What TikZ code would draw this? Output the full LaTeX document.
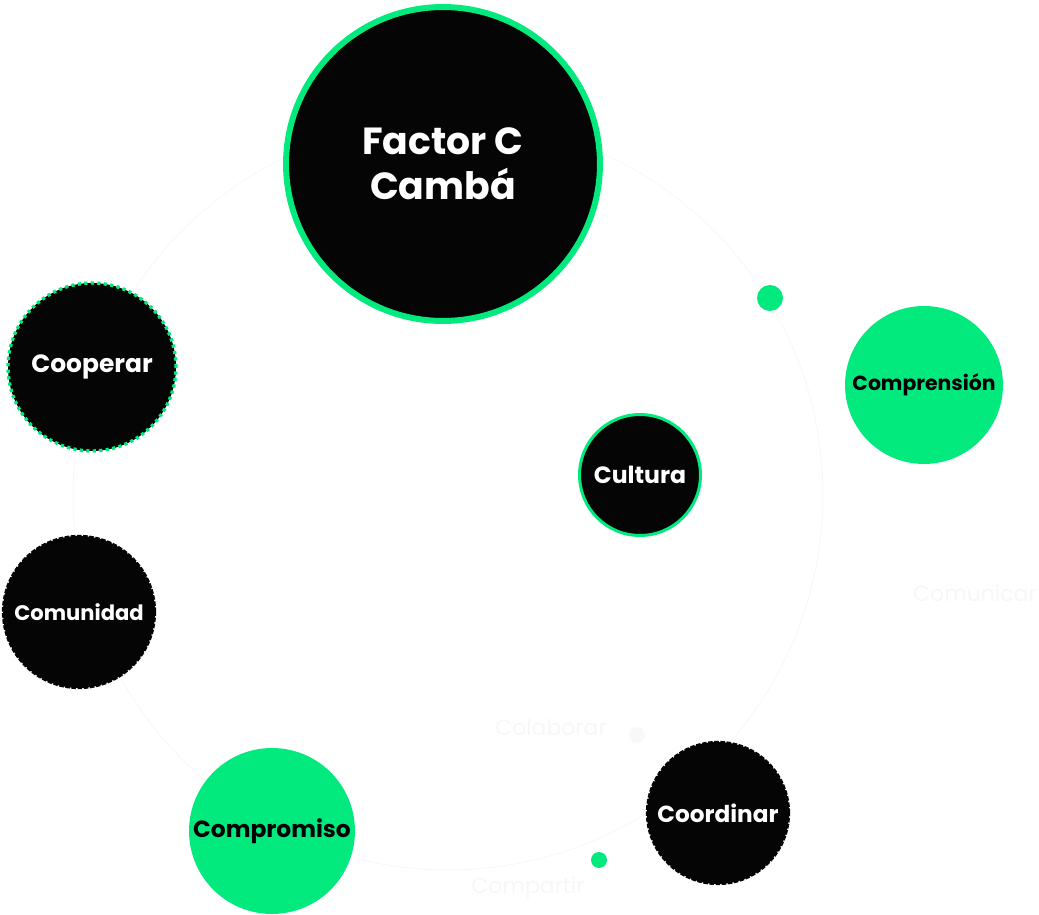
\documentclass[tikz,border=0pt]{standalone}
\usepackage{fontspec}
\setmainfont{Poppins}
\usepackage{tikz}
\usetikzlibrary{positioning, calc}
\definecolor{cgreen}{HTML}{02E97D}
\definecolor{cblack}{HTML}{050505}
\definecolor{cghost}{HTML}{F7F7F7}
\definecolor{cfaint}{HTML}{F8F8F8}
\tikzset{
        my-circle/.style={
            circle, inner sep=0pt, outer sep=0pt, align=center, minimum size=#1*0.2mm
        },
        my-hub/.style={
            my-circle=#1, fill=cblack, draw=cgreen, line width=3.4pt, text=white
        },
        my-ring-node/.style={
            my-circle=#1, fill=cblack, draw=cgreen, line width=1.7pt, text=white
        },
        my-dotted-node/.style={
            my-circle=#1, fill=cblack, draw=cgreen, line width=1.9pt, dash pattern=on 1.8pt off 1.9pt, text=white
        },
        my-dashed-node/.style={
            my-circle=#1, fill=cblack, draw=cblack, line width=1.3pt, dash pattern=on 2.6pt off 0.9pt, text=white
        },
        my-green-node/.style={
            my-circle=#1, fill=cgreen, text=black
        },
        my-dot/.style={
            my-circle=#1, fill=cgreen
        },
        my-ghost/.style={
            text=cghost, font=\fontsize{12.5}{14}\selectfont
        },
        fs/.style 2 args={
            font=\bfseries\fontsize{#1}{#2}\selectfont
        },
}

\begin{document}
\begin{tikzpicture}[x=0.02cm, y=-0.02cm]

        \useasboundingbox (0,0) rectangle (1039,915);

        %ORBIT (drawn first, the circles sit on top of it)
        \node [circle, draw=cghost, line width=0.5pt, minimum size=750*0.2mm] (ORBIT) at (448,495) {};

        %DRAW NODES (at their coordinates, the orbit passes through them)
        \node [my-hub=314, fs={21.5}{25.5}]         (FACTOR) at (443,164)  {Factor C\\Cambá};
        \node [my-dotted-node=168, fs={14.2}{16}]   (COOP)   at (92,367)   {Cooperar};
        \node [my-dashed-node=152, fs={12}{14}]     (COMUN)  at (79,612)   {Comunidad};
        \node [my-green-node=166, fs={13.3}{15}]    (COMPRO) at (272,831)  {Compromiso};
        \node [my-dashed-node=142, fs={13.2}{15}]   (COORD)  at (718,813)  {Coordinar};
        \node [my-ring-node=121, fs={13.4}{15}]     (CULT)   at (640,475)  {Cultura};
        \node [my-green-node=158, fs={11.6}{13}]    (COMPRE) at (924,385)  {Comprensión};

        % SMALL DOTS ON THE ORBIT
        \node [my-dot=26]           (DOT1)   at (770,298)  {};
        \node [my-dot=16]           (DOT2)   at (599,860)  {};
        \node [my-circle=16, fill=cfaint] (DOT3) at (637,735) {};

        % FAINT LABELS
        \node [my-ghost]            (COMUNICAR) at (975,593) {Comunicar};
        \node [my-ghost]            (COLAB)     at (551,727) {Colaborar};
        \node [my-ghost]            (COMPART)   at (528,888) {Compartir};

    \end{tikzpicture}
\end{document}
